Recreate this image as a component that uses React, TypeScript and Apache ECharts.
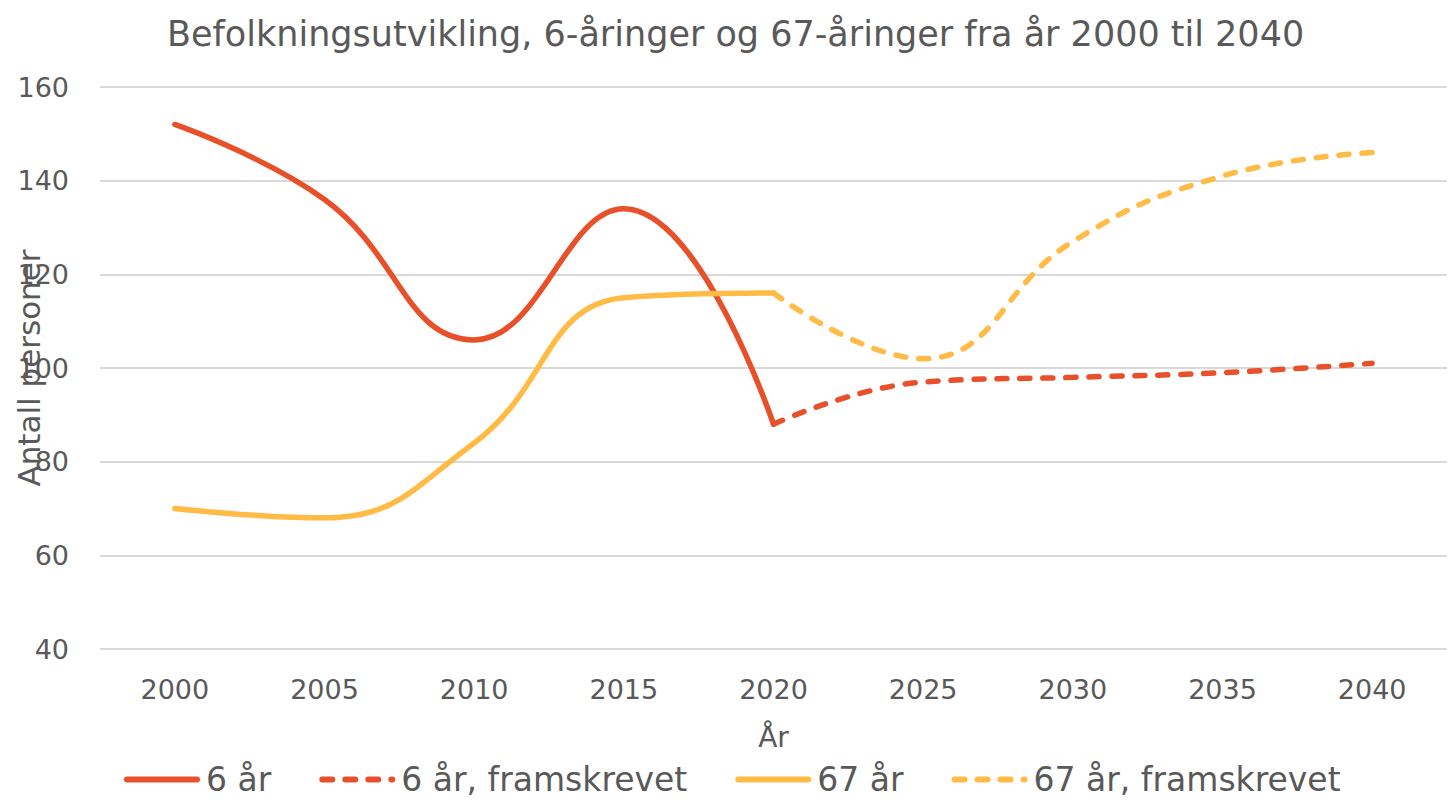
import React, { useEffect, useRef } from "react";
import * as echarts from "echarts";

const years = ["2000", "2005", "2010", "2015", "2020", "2025", "2030", "2035", "2040"];
const sixYear = [152, 136, 106, 134, 88, null, null, null, null];
const sixYearProj = [null, null, null, null, 88, 97, 98, 99, 101];
const sixtySeven = [70, 68, 84, 115, 116, null, null, null, null];
const sixtySevenProj = [null, null, null, null, 116, 102, 127, 141, 146];

const RED = "#E8502A";
const YELLOW = "#FFBB45";
const TEXT = "#595959";
const FONT = "DejaVu Sans";

export default function App() {
  const ref = useRef<HTMLDivElement>(null);
  useEffect(() => {
    document.body.style.margin = "0";
    const chart = echarts.init(ref.current!, null, { renderer: "svg" });
    const mk = (name: string, data: (number | null)[], color: string, dashed: boolean) => ({
      name,
      type: "line",
      data,
      smooth: 0.45,
      symbol: "none",
      connectNulls: false,
      lineStyle: { color, width: 5.5, type: dashed ? [10, 13] : "solid", cap: "round" },
      itemStyle: { color },
    });
    chart.setOption({
      animation: false,
      textStyle: { fontFamily: FONT, color: TEXT },
      title: {
        text: "Befolkningsutvikling, 6-åringer og 67-åringer fra år 2000 til 2040",
        left: 162,
        top: 11,
        textStyle: { fontFamily: FONT, fontSize: 35, fontWeight: "normal", color: TEXT },
      },
      grid: { left: 100, right: 2, top: 87, bottom: 154, containLabel: false, outerBoundsMode: "none" },
      legend: {
        bottom: 2,
        left: 119,
        itemWidth: 70,
        itemHeight: 6,
        itemGap: 48,
        itemStyle: { opacity: 0 },
        lineStyle: { width: 6 },
        textStyle: { fontFamily: FONT, fontSize: 33, color: TEXT, padding: [0, 0, 0, 4] },
        data: ["6 år", "6 år, framskrevet", "67 år", "67 år, framskrevet"],
      },
      xAxis: {
        type: "category",
        data: years,
        boundaryGap: true,
        name: "År",
        nameLocation: "middle",
        nameGap: 74,
        nameTextStyle: { fontFamily: FONT, fontSize: 28, color: TEXT },
        axisLine: { show: false },
        axisTick: { show: false },
        axisLabel: { fontFamily: FONT, fontSize: 27, color: TEXT, margin: 27 },
      },
      yAxis: {
        type: "value",
        min: 40,
        max: 160,
        interval: 20,
        name: "Antall personer",
        nameLocation: "middle",
        nameRotate: 90,
        nameGap: 56,
        nameMoveOverlap: false,
        nameTextStyle: { fontFamily: FONT, fontSize: 31, color: TEXT },
        axisLine: { show: false },
        axisTick: { show: false },
        axisLabel: { fontFamily: FONT, fontSize: 27, color: TEXT, margin: 31 },
        splitLine: { lineStyle: { color: "#D9D9D9", width: 2 } },
      },
      series: [
        mk("6 år", sixYear, RED, false),
        mk("6 år, framskrevet", sixYearProj, RED, true),
        mk("67 år", sixtySeven, YELLOW, false),
        mk("67 år, framskrevet", sixtySevenProj, YELLOW, true),
      ],
    });
    return () => chart.dispose();
  }, []);
  return <div ref={ref} style={{ width: 1449, height: 803 }} />;
}
